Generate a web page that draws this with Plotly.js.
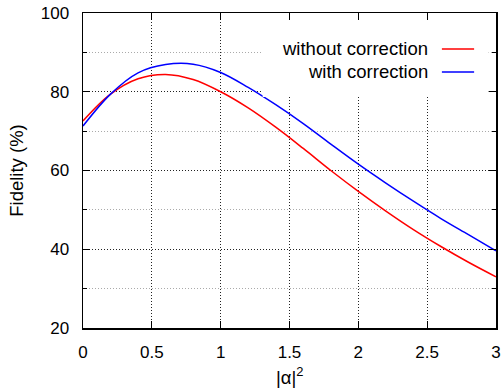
<!DOCTYPE html>
<html>
<head>
<meta charset="utf-8">
<script src="https://cdn.plot.ly/plotly-3.0.1.min.js"></script>
<style>html,body{margin:0;padding:0;background:#fff;}#chart{width:503px;height:392px;}</style>
</head>
<body>
<div id="chart"></div>
<script>
const alphaSq = [0, 0.2, 0.4, 0.6, 0.8, 1.0, 1.2, 1.4, 1.6, 1.8, 2.0, 2.2, 2.4, 2.6, 2.8, 3.0];
const withoutCorrection = [72.6, 79.4, 83.3, 84.4, 83.1, 80.0, 75.9, 71.0, 65.6, 60.0, 54.7, 49.7, 45.0, 40.7, 36.7, 33.0];
const withCorrection = [71.3, 79.4, 84.8, 86.9, 87.0, 84.9, 81.1, 76.7, 71.9, 66.7, 61.6, 56.8, 52.2, 47.8, 43.7, 39.6];
const seriesNames = ["without correction", "with correction"];
const seriesColors = ["#ff0000", "#0000ff"];
const xTickVals = [0, 0.5, 1, 1.5, 2, 2.5, 3];
const xTickText = ["0", "0.5", "1", "1.5", "2", "2.5", "3"];
const yTickVals = [20, 40, 60, 80, 100];

const font = {family: "Liberation Sans, Arial, sans-serif", size: 17, color: "#000"};
const legendFont = {family: "Liberation Sans, Arial, sans-serif", size: 18.5, color: "#000"};

const traces = [withoutCorrection, withCorrection].map((ys, i) => ({
  x: alphaSq, y: ys, type: "scatter", mode: "lines", name: seriesNames[i],
  line: {color: seriesColors[i], width: 1.5, shape: "spline", smoothing: 1.0},
  showlegend: false, hoverinfo: "skip"
}));

// custom legend: text on the left, sample line on the right (gnuplot style)
const legendRowsY = [0.886, 0.813];
const annotations = seriesNames.map((n, i) => ({
  xref: "paper", yref: "paper", x: 0.840, y: legendRowsY[i], xanchor: "right", yanchor: "middle",
  text: n, showarrow: false, font: legendFont
}));
annotations.push({xref: "paper", yref: "paper", x: 0.5, y: -0.197, xanchor: "center", yanchor: "bottom",
  text: "|α|<sup>2</sup>", showarrow: false, font: legendFont});

const shapes = [{
  type: "rect", xref: "paper", yref: "paper", x0: 0.435, x1: 0.982, y0: 0.733, y1: 0.975,
  fillcolor: "#fff", line: {width: 0}, layer: "above"
}];
seriesColors.forEach((c, i) => shapes.push({
  type: "line", xref: "paper", yref: "paper", x0: 0.869, x1: 0.947, y0: legendRowsY[i], y1: legendRowsY[i],
  line: {color: c, width: 1.5}, layer: "above"
}));

const layout = {
  width: 503, height: 392,
  margin: {l: 83, r: 7, t: 13, b: 64},
  paper_bgcolor: "#fff", plot_bgcolor: "#fff",
  font: font,
  showlegend: false,
  xaxis: {
    range: [0, 3], tickvals: xTickVals, ticktext: xTickText,
    ticks: "inside", ticklen: 7, tickwidth: 1, tickcolor: "#000",
    showline: true, linecolor: "#000", linewidth: 1.5, mirror: "allticks",
    showgrid: true, gridcolor: "#222", griddash: "1px,2px", gridwidth: 1,
    zeroline: false, ticklabelstandoff: 8, tickfont: font
  },
  yaxis: {
    range: [20, 100], tickvals: yTickVals,
    ticks: "inside", ticklen: 7, tickwidth: 1, tickcolor: "#000",
    showline: true, linecolor: "#000", linewidth: 1.5, mirror: "allticks",
    showgrid: true, gridcolor: "#222", griddash: "1px,2px", gridwidth: 1,
    zeroline: false, ticklabelstandoff: 9, tickfont: font,
    minor: {dtick: 10, tick0: 0, ticks: "inside", ticklen: 4, tickcolor: "#000",
            showgrid: true, gridcolor: "#aaa", griddash: "1px,2px", gridwidth: 1},
    title: {text: "Fidelity (%)", font: legendFont, standoff: 12}
  },
  annotations: annotations,
  shapes: shapes
};

Plotly.newPlot("chart", traces, layout, {displayModeBar: false, staticPlot: true});
</script>
</body>
</html>
